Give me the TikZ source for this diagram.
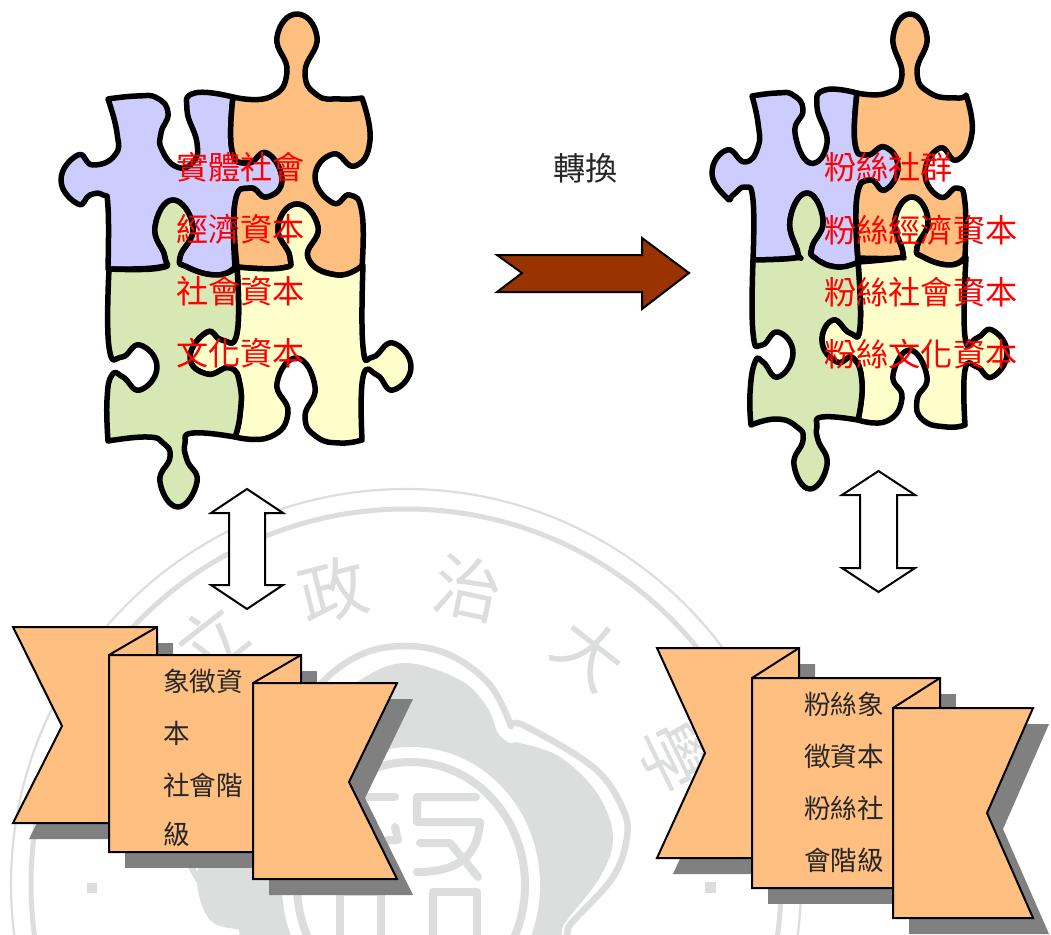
\documentclass[tikz,border=0pt]{standalone}
\usepackage{fontspec}
\newfontfamily\cjk{Noto Sans CJK TC}
\definecolor{wm}{HTML}{DCDDDD}
\definecolor{lilac}{HTML}{CCCCFF}
\definecolor{peach}{HTML}{FFBF80}
\definecolor{leaf}{HTML}{D8E8B4}
\definecolor{cream}{HTML}{FFFFCC}
\definecolor{rust}{HTML}{993300}
\definecolor{shade}{HTML}{808080}
\tikzset{
  puz/.style={smooth,tension=.85},
  piece/.style={draw=black,line width=5.5pt,line join=round},
  ribbon/.style={draw=black,line width=2pt,fill=peach,line join=miter},
  shadow/.style={fill=shade,draw=none},
  dbl/.style={draw=black,line width=2pt,fill=white,line join=miter},
  redt/.style={anchor=west,inner sep=0pt,text=red,font=\cjk\fontsize{32.2}{33}\selectfont},
  ribt/.style={anchor=west,inner sep=0pt,text=black!85,font=\cjk\fontsize{26.6}{27}\selectfont},
  wmt/.style={inner sep=0pt,text=wm,font=\cjk\fontsize{68}{70}\selectfont},
  wmline/.style={draw=wm,line width=8pt,line cap=round,line join=round},
}
\begin{document}
\begin{tikzpicture}[x=1pt,y=-1pt]
\useasboundingbox (0,0) rectangle (1051,934);
\clip (0,0) rectangle (1051,934);
\fill[white] (0,0) rectangle (1051,934);
% watermark
\draw[wm,line width=2.2pt] (406,884) circle[radius=395];
\draw[wm,line width=5pt] (406,884) circle[radius=375];
\node[wmt,rotate=38] (w1) at (210,640) {立};
\node[wmt,rotate=14] (w2) at (333,590) {政};
\node[wmt,rotate=-12] (w3) at (468,588) {治};
\node[wmt,rotate=-38] (w4) at (590,653) {大};
\node[wmt,rotate=-64] (w5) at (673,757) {學};
\fill[wm] (87,883) rectangle (97,893);
\fill[wm] (705,882) rectangle (716,893);
% cloud
\fill[wm] plot[smooth,tension=.62] coordinates {(243,940) (243,931) (210,920) (197,877) (213,837) (250,793) (290,757) (300,743) (312,743)}
  -- plot[smooth,tension=.62] coordinates {(312,743) (322,733) (333,707) (360,680) (405,663) (460,680) (487,707) (498,733) (510,743) (520,743) (560,757) (597,793) (613,837) (600,877) (567,920) (562,931) (562,940)} -- cycle;
\draw[wm,line width=6.5pt,line join=round] plot[smooth,tension=.62] coordinates {(242,940) (242,928) (233,917) (197,877) (183,837) (188,807) (217,767) (285,726) (299,726)}
  -- plot[smooth,tension=.62] coordinates {(299,726) (320,685) (360,655) (405,646) (450,655) (490,685) (511,726)}
  -- plot[smooth,tension=.62] coordinates {(511,726) (525,726) (593,767) (622,807) (627,837) (613,877) (577,917) (568,928) (568,940)};
\fill[white] (411,885) ellipse[x radius=129,y radius=138];
\draw[wm,line width=8pt] (411,885) ellipse[x radius=114,y radius=123];
\draw[wmline] (367,797) -- (395,797);
\draw[wmline] (395,827) -- (398,840) -- (387,840);
\draw[wmline] (476,797) -- (417,797) -- (417,822) -- (480,822) .. controls (478,850) and (465,872) .. (417,872);
\draw[wmline] (420,843) -- (450,843) -- (478,877);
\draw[wmline] (433,945) -- (433,892) -- (477,892) -- (477,945);
\draw[wmline] (340,945) -- (340,892) -- (381,892) -- (381,945);
% left puzzle
\path[piece,fill=lilac] plot[puz] coordinates {(108,99) (137,96) (157,98) (168,113) (161,133) (162,150) (177,167) (193,162) (197,143) (187,110) (195,93) (233,97)}
 -- plot[puz] coordinates {(233,97) (232,150) (248,163) (267,153) (282,180) (267,197) (250,188) (235,203) (235,267)}
 -- plot[puz] coordinates {(235,267) (217,275) (187,267) (180,257) (193,227) (173,200) (155,227) (165,257) (160,267) (108,269)}
 -- plot[puz] coordinates {(108,269) (108,207) (103,195) (90,195) (78,204) (61,180) (78,155) (93,165) (115,155) (117,133) (108,99)} -- cycle;
\path[piece,fill=peach] plot[puz] coordinates {(233,97) (270,97) (287,72) (277,37) (297,14) (317,37) (305,72) (317,95) (340,99) (362,98)}
 -- plot[puz] coordinates {(362,98) (370,140) (355,166) (333,154) (315,177) (333,203) (350,195) (362,213) (362,267)}
 -- plot[puz] coordinates {(362,267) (337,275) (308,258) (318,227) (297,204) (278,227) (290,257) (282,268) (237,267)}
 -- plot[puz] coordinates {(237,267) (235,203) (250,188) (267,197) (282,180) (267,153) (248,163) (232,150) (233,97)} -- cycle;
\path[piece,fill=cream] plot[puz] coordinates {(237,267) (282,268) (290,257) (278,227) (297,204) (318,227) (308,258) (337,275) (363,265)}
 -- plot[puz] coordinates {(363,265) (363,347) (373,357) (393,343) (411,367) (393,390) (377,375) (363,377) (362,440)}
 -- plot[puz] coordinates {(362,440) (340,443) (317,437) (305,417) (315,387) (297,358) (277,383) (288,413) (270,437) (235,437)}
 -- plot[puz] coordinates {(235,437) (240,415) (240,385) (230,368) (207,374) (190,357) (207,332) (222,340) (237,333) (237,267)} -- cycle;
\path[piece,fill=leaf] plot[puz] coordinates {(109,269) (160,268) (165,257) (155,227) (173,200) (193,227) (180,257) (187,267) (217,275) (237,267)}
 -- plot[puz] coordinates {(237,267) (237,333) (222,340) (207,332) (190,357) (207,374) (230,368) (240,385) (240,415) (235,437)}
 -- plot[puz] coordinates {(235,437) (193,433) (185,443) (187,460) (197,482) (178,507) (160,482) (170,457) (163,443) (147,437) (108,441)}
 -- plot[puz] coordinates {(108,441) (107,400) (112,375) (123,377) (140,390) (157,367) (140,345) (122,357) (109,347) (109,269)} -- cycle;
% right puzzle
\path[piece,fill=lilac] plot[puz] coordinates {(752,96) (777,93) (793,95) (803,110) (795,133) (810,163) (827,143) (817,107) (825,90) (857,93)}
 -- plot[puz] coordinates {(857,93) (855,143) (867,155) (885,147) (898,167) (885,190) (870,180) (857,197) (858,263)}
 -- plot[puz] coordinates {(858,263) (837,267) (815,258) (812,247) (823,220) (807,193) (790,220) (798,253) (795,258) (753,260)}
 -- plot[puz] coordinates {(753,260) (753,200) (745,187) (733,195) (727,198) (712,173) (727,150) (745,162) (758,147) (758,123) (752,96)} -- cycle;
\path[piece,fill=peach] plot[puz] coordinates {(857,93) (887,93) (902,75) (893,37) (910,14) (927,37) (917,72) (930,93) (957,98) (966,95)}
 -- plot[puz] coordinates {(966,95) (972,133) (957,160) (940,148) (925,173) (940,197) (957,188) (965,203) (965,257)}
 -- plot[puz] coordinates {(965,257) (950,265) (923,257) (917,247) (928,220) (912,197) (895,220) (903,253) (897,258) (858,258)}
 -- plot[puz] coordinates {(858,258) (857,197) (870,180) (885,190) (898,167) (885,147) (867,155) (855,143) (857,93)} -- cycle;
\path[piece,fill=cream] plot[puz] coordinates {(858,262) (897,258) (903,253) (895,220) (912,197) (928,220) (917,247) (923,257) (950,265) (966,257)}
 -- plot[puz] coordinates {(966,257) (965,337) (977,338) (992,330) (1007,353) (992,377) (977,367) (965,370) (965,425)}
 -- plot[puz] coordinates {(965,425) (947,427) (923,420) (917,400) (927,377) (910,350) (893,375) (902,398) (887,421) (858,420)}
 -- plot[puz] coordinates {(858,420) (862,383) (853,358) (837,362) (822,342) (833,320) (850,333) (860,327) (858,262)} -- cycle;
\path[piece,fill=leaf] plot[puz] coordinates {(753,260) (795,258) (798,253) (790,220) (807,193) (823,220) (812,247) (815,258) (837,267) (858,262)}
 -- plot[puz] coordinates {(858,262) (860,327) (850,333) (833,320) (822,342) (837,362) (853,358) (862,383) (858,420)}
 -- plot[puz] coordinates {(858,420) (822,417) (817,427) (818,440) (827,465) (810,489) (794,465) (803,440) (797,427) (777,419) (751,425)}
 -- plot[puz] coordinates {(751,425) (750,393) (755,362) (763,362) (778,377) (793,353) (778,332) (762,345) (753,333) (753,260)} -- cycle;
% red labels
\node[redt] (a1) at (176,167) {實體社會};
\node[redt] (a2) at (176,229) {經濟資本};
\node[redt] (a3) at (176,291) {社會資本};
\node[redt] (a4) at (176,353) {文化資本};
\node[redt] (b1) at (824,167) {粉絲社群};
\node[redt] (b2) at (824,230) {粉絲經濟資本};
\node[redt] (b3) at (824,292) {粉絲社會資本};
\node[redt] (b4) at (824,354) {粉絲文化資本};
% centre arrow
\node[anchor=center,inner sep=0pt,text=black!85,font=\cjk\fontsize{32.2}{33}\selectfont] (zh) at (585.5,168) {轉換};
\draw[draw=black,line width=2pt,fill=rust,line join=miter] (497,255) -- (642,255) -- (642,238) -- (689,273) -- (642,309) -- (642,292) -- (497,292) -- (522,273) -- cycle;
% double arrows
\draw[dbl] (247,489) -- (283,513) -- (265,513) -- (265,585) -- (283,585) -- (247,609) -- (211,585) -- (229,585) -- (229,513) -- (211,513) -- cycle;
\draw[dbl] (878.5,471) -- (915,495) -- (897,495) -- (897,568) -- (915,568) -- (878.5,592) -- (842,568) -- (860,568) -- (860,495) -- (842,495) -- cycle;
% left ribbon
\fill[shadow] (29,643) -- (173,643) -- (173,839) -- (29,839) -- (78,742) -- cycle;
\fill[shadow] (125,671) -- (317,671) -- (317,868) -- (125,868) -- cycle;
\fill[shadow] (269,699) -- (413,699) -- (365,798) -- (413,895) -- (269,895) -- cycle;
\draw[ribbon] (13,627) -- (157,627) -- (157,660) -- (109,823) -- (13,823) -- (62,726) -- cycle;
\draw[ribbon] (109,655) -- (301,655) -- (301,690) -- (253,852) -- (109,852) -- cycle;
\draw[ribbon] (109,655) -- (157,627);
\draw[ribbon] (253,683) -- (397,683) -- (349,782) -- (397,879) -- (253,879) -- cycle;
\draw[ribbon] (253,683) -- (301,655);
\node[ribt] (c1) at (163,681) {象徵資};
\node[ribt] (c2) at (163,733) {本};
\node[ribt] (c3) at (163,785) {社會階};
\node[ribt] (c4) at (163,834) {級};
% right ribbon
\fill[shadow] (673,664) -- (815,664) -- (815,874) -- (673,874) -- (721,769) -- cycle;
\fill[shadow] (768,694) -- (956,694) -- (956,904) -- (768,904) -- cycle;
\fill[shadow] (909,724) -- (1049,724) -- (1003,829) -- (1049,934) -- (909,934) -- cycle;
\draw[ribbon] (657,648) -- (799,648) -- (799,690) -- (752,858) -- (657,858) -- (705,753) -- cycle;
\draw[ribbon] (752,678) -- (940,678) -- (940,720) -- (893,888) -- (752,888) -- cycle;
\draw[ribbon] (752,678) -- (799,648);
\draw[ribbon] (893,708) -- (1033,708) -- (987,813) -- (1033,918) -- (893,918) -- cycle;
\draw[ribbon] (893,708) -- (940,678);
\node[ribt] (d1) at (804,704) {粉絲象};
\node[ribt] (d2) at (804,756) {徵資本};
\node[ribt] (d3) at (804,808) {粉絲社};
\node[ribt] (d4) at (804,860) {會階級};
\end{tikzpicture}
\end{document}
